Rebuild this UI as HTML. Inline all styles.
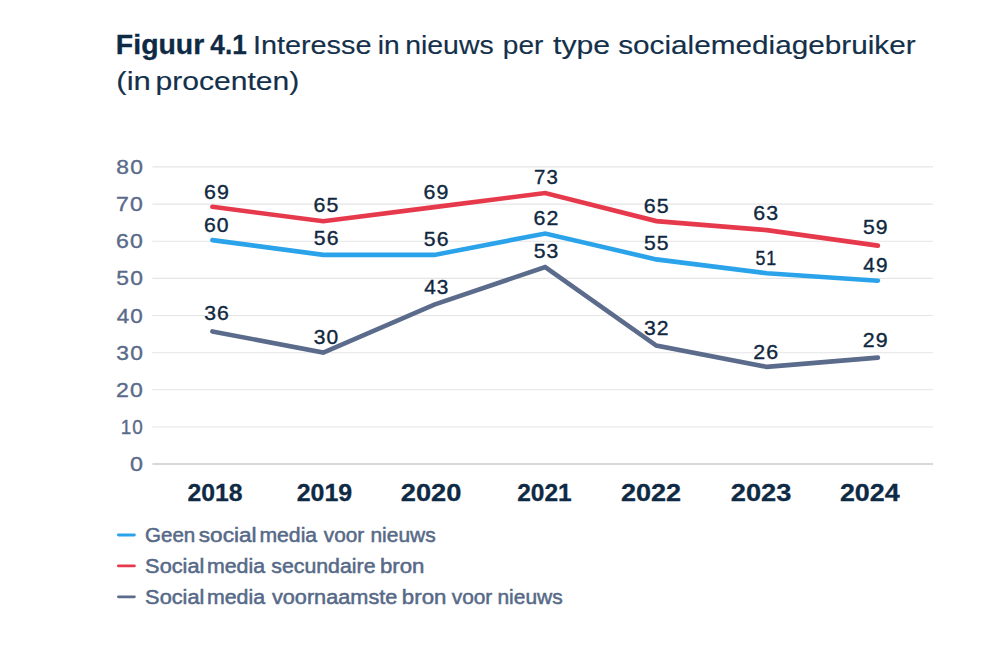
<!DOCTYPE html>
<html lang="nl">
<head>
<meta charset="utf-8">
<title>Figuur 4.1</title>
<style>
html,body{margin:0;padding:0;background:#fff;}
body{width:984px;height:648px;overflow:hidden;font-family:"Liberation Sans",sans-serif;}
svg{display:block;}
.t{font-family:"Liberation Sans",sans-serif;}
.tb{font-weight:bold;fill:#0f2a44;stroke:#0f2a44;stroke-width:0.3px;}
.tr{fill:#14304a;stroke:#14304a;stroke-width:0.15px;}
.yl{fill:#5a6a89;stroke:#5a6a89;stroke-width:0.35px;}
.dl{fill:#10283f;stroke:#10283f;stroke-width:0.35px;}
.xl{font-weight:bold;fill:#0f2a44;stroke:#0f2a44;stroke-width:0.3px;}
.lg{fill:#566987;stroke:#566987;stroke-width:0.5px;}
</style>
</head>
<body>
<svg width="984" height="648" viewBox="0 0 984 648">
<rect width="984" height="648" fill="#ffffff"/>
<text class="t tb" font-size="27" y="53.90"><tspan x="115.89" textLength="88.40" lengthAdjust="spacingAndGlyphs">Figuur</tspan> <tspan x="210.34" textLength="36.39" lengthAdjust="spacingAndGlyphs">4.1</tspan></text>
<text class="t tr" font-size="26" y="53.90"><tspan x="252.91" textLength="118.54" lengthAdjust="spacingAndGlyphs">Interesse</tspan> <tspan x="377.71" textLength="21.94" lengthAdjust="spacingAndGlyphs">in</tspan> <tspan x="405.20" textLength="88.44" lengthAdjust="spacingAndGlyphs">nieuws</tspan> <tspan x="502.82" textLength="40.51" lengthAdjust="spacingAndGlyphs">per</tspan> <tspan x="553.00" textLength="57.01" lengthAdjust="spacingAndGlyphs">type</tspan> <tspan x="618.21" textLength="297.45" lengthAdjust="spacingAndGlyphs">socialemediagebruiker</tspan></text>
<text class="t tr" font-size="26" y="90.20"><tspan x="116.33" textLength="34.58" lengthAdjust="spacingAndGlyphs">(in</tspan> <tspan x="155.49" textLength="143.83" lengthAdjust="spacingAndGlyphs">procenten)</tspan></text>
<line x1="152.4" x2="933" y1="427.0" y2="427.0" stroke="#e5e5e5" stroke-width="1.1"/>
<line x1="152.4" x2="933" y1="389.8" y2="389.8" stroke="#e5e5e5" stroke-width="1.1"/>
<line x1="152.4" x2="933" y1="352.7" y2="352.7" stroke="#e5e5e5" stroke-width="1.1"/>
<line x1="152.4" x2="933" y1="315.5" y2="315.5" stroke="#e5e5e5" stroke-width="1.1"/>
<line x1="152.4" x2="933" y1="278.4" y2="278.4" stroke="#e5e5e5" stroke-width="1.1"/>
<line x1="152.4" x2="933" y1="241.2" y2="241.2" stroke="#e5e5e5" stroke-width="1.1"/>
<line x1="152.4" x2="933" y1="204.1" y2="204.1" stroke="#e5e5e5" stroke-width="1.1"/>
<line x1="152.4" x2="933" y1="166.9" y2="166.9" stroke="#e5e5e5" stroke-width="1.1"/>
<line x1="152.4" x2="933" y1="464.1" y2="464.1" stroke="#d8d8d8" stroke-width="2"/>
<text class="t yl" font-size="19.8" letter-spacing="0.99" transform="translate(129.97 471.10) scale(1.1785 1)">0</text>
<text class="t yl" font-size="19.8" letter-spacing="0.99" transform="translate(120.78 433.95) scale(0.9529 1)">10</text>
<text class="t yl" font-size="19.8" letter-spacing="0.99" transform="translate(116.05 396.80) scale(1.1644 1)">20</text>
<text class="t yl" font-size="19.8" letter-spacing="0.99" transform="translate(116.29 359.65) scale(1.1537 1)">30</text>
<text class="t yl" font-size="19.8" letter-spacing="0.99" transform="translate(116.75 322.50) scale(1.1330 1)">40</text>
<text class="t yl" font-size="19.8" letter-spacing="0.99" transform="translate(116.29 285.35) scale(1.1537 1)">50</text>
<text class="t yl" font-size="19.8" letter-spacing="0.99" transform="translate(116.05 248.20) scale(1.1644 1)">60</text>
<text class="t yl" font-size="19.8" letter-spacing="0.99" transform="translate(116.05 211.05) scale(1.1644 1)">70</text>
<text class="t yl" font-size="19.8" letter-spacing="0.99" transform="translate(116.29 173.90) scale(1.1537 1)">80</text>
<polyline points="212.4,331.4 323.3,352.6 434.3,304.6 545.2,267.1 656.3,345.6 766.9,366.9 877.9,357.6" fill="none" stroke="#5b6b8b" stroke-width="4.6" stroke-linecap="round" stroke-linejoin="miter"/>
<polyline points="212.4,240.1 323.3,254.9 434.3,254.9 545.2,233.5 656.3,259.4 766.9,273.3 877.9,280.7" fill="none" stroke="#2aa3ea" stroke-width="4.6" stroke-linecap="round" stroke-linejoin="miter"/>
<polyline points="212.4,206.8 323.3,221.3 434.3,207.1 545.2,193.0 656.3,221.1 766.9,230.1 877.9,245.6" fill="none" stroke="#e63a4c" stroke-width="4.6" stroke-linecap="round" stroke-linejoin="miter"/>
<text class="t dl" font-size="19.8" letter-spacing="0.99" transform="translate(203.98 198.67) scale(1.0809 1)">69</text>
<text class="t dl" font-size="19.8" letter-spacing="0.99" transform="translate(313.58 212.23) scale(1.0809 1)">65</text>
<text class="t dl" font-size="19.8" letter-spacing="0.99" transform="translate(423.58 198.67) scale(1.0809 1)">69</text>
<text class="t dl" font-size="19.8" letter-spacing="0.99" transform="translate(534.08 183.51) scale(1.0290 1)">73</text>
<text class="t dl" font-size="19.8" letter-spacing="0.99" transform="translate(643.78 213.03) scale(1.0809 1)">65</text>
<text class="t dl" font-size="19.8" letter-spacing="0.99" transform="translate(753.18 220.16) scale(1.0809 1)">63</text>
<text class="t dl" font-size="19.8" letter-spacing="0.99" transform="translate(862.90 233.82) scale(1.0709 1)">59</text>
<text class="t dl" font-size="19.8" letter-spacing="0.99" transform="translate(203.99 231.50) scale(1.0709 1)">60</text>
<text class="t dl" font-size="19.8" letter-spacing="0.99" transform="translate(313.80 245.26) scale(1.0709 1)">56</text>
<text class="t dl" font-size="19.8" letter-spacing="0.99" transform="translate(423.80 246.26) scale(1.0709 1)">56</text>
<text class="t dl" font-size="19.8" letter-spacing="0.99" transform="translate(533.48 224.67) scale(1.0809 1)">62</text>
<text class="t dl" font-size="19.8" letter-spacing="0.99" transform="translate(644.00 250.18) scale(1.0709 1)">55</text>
<text class="t dl" font-size="19.8" letter-spacing="0.99" transform="translate(755.39 265.23) scale(0.8979 1)">51</text>
<text class="t dl" font-size="19.8" letter-spacing="0.99" transform="translate(863.33 272.27) scale(1.0514 1)">49</text>
<text class="t dl" font-size="19.8" letter-spacing="0.99" transform="translate(204.20 319.76) scale(1.0709 1)">36</text>
<text class="t dl" font-size="19.8" letter-spacing="0.99" transform="translate(313.81 343.55) scale(1.0611 1)">30</text>
<text class="t dl" font-size="19.8" letter-spacing="0.99" transform="translate(424.23 294.25) scale(1.0514 1)">43</text>
<text class="t dl" font-size="19.8" letter-spacing="0.99" transform="translate(533.70 258.11) scale(1.0709 1)">53</text>
<text class="t dl" font-size="19.8" letter-spacing="0.99" transform="translate(644.00 335.12) scale(1.0709 1)">32</text>
<text class="t dl" font-size="19.8" letter-spacing="0.99" transform="translate(753.18 359.21) scale(1.0809 1)">26</text>
<text class="t dl" font-size="19.8" letter-spacing="0.99" transform="translate(862.68 346.76) scale(1.0809 1)">29</text>
<text class="t xl" font-size="24" transform="translate(187.46 500.90) scale(1.0311 1)">2018</text>
<text class="t xl" font-size="24" transform="translate(296.65 500.90) scale(1.0397 1)">2019</text>
<text class="t xl" font-size="24" transform="translate(400.78 500.90) scale(1.1362 1)">2020</text>
<text class="t xl" font-size="24" transform="translate(517.16 500.90) scale(1.0215 1)">2021</text>
<text class="t xl" font-size="24" transform="translate(620.99 500.90) scale(1.1265 1)">2022</text>
<text class="t xl" font-size="24" transform="translate(730.78 500.90) scale(1.1343 1)">2023</text>
<text class="t xl" font-size="24" transform="translate(839.89 500.90) scale(1.1187 1)">2024</text>
<line x1="118.4" x2="134.4" y1="535.0" y2="535.0" stroke="#2aa3ea" stroke-width="2.8" stroke-linecap="round"/>
<text class="t lg" font-size="20.0" y="541.80"><tspan x="144.97" textLength="50.29" lengthAdjust="spacingAndGlyphs">Geen</tspan> <tspan x="198.82" textLength="57.79" lengthAdjust="spacingAndGlyphs">social</tspan> <tspan x="259.43" textLength="57.74" lengthAdjust="spacingAndGlyphs">media</tspan> <tspan x="323.80" textLength="40.42" lengthAdjust="spacingAndGlyphs">voor</tspan> <tspan x="370.44" textLength="65.25" lengthAdjust="spacingAndGlyphs">nieuws</tspan></text>
<line x1="118.4" x2="134.4" y1="565.9" y2="565.9" stroke="#e63a4c" stroke-width="2.8" stroke-linecap="round"/>
<text class="t lg" font-size="20.0" y="572.70"><tspan x="145.13" textLength="59.26" lengthAdjust="spacingAndGlyphs">Social</tspan> <tspan x="206.92" textLength="58.15" lengthAdjust="spacingAndGlyphs">media</tspan> <tspan x="271.26" textLength="104.24" lengthAdjust="spacingAndGlyphs">secundaire</tspan> <tspan x="379.97" textLength="44.50" lengthAdjust="spacingAndGlyphs">bron</tspan></text>
<line x1="118.4" x2="134.4" y1="596.8" y2="596.8" stroke="#5b6b8b" stroke-width="2.8" stroke-linecap="round"/>
<text class="t lg" font-size="20.0" y="603.60"><tspan x="145.13" textLength="59.26" lengthAdjust="spacingAndGlyphs">Social</tspan> <tspan x="206.92" textLength="58.15" lengthAdjust="spacingAndGlyphs">media</tspan> <tspan x="271.90" textLength="125.49" lengthAdjust="spacingAndGlyphs">voornaamste</tspan> <tspan x="401.87" textLength="44.50" lengthAdjust="spacingAndGlyphs">bron</tspan> <tspan x="451.70" textLength="40.62" lengthAdjust="spacingAndGlyphs">voor</tspan> <tspan x="497.44" textLength="65.25" lengthAdjust="spacingAndGlyphs">nieuws</tspan></text>
</svg>
</body>
</html>
